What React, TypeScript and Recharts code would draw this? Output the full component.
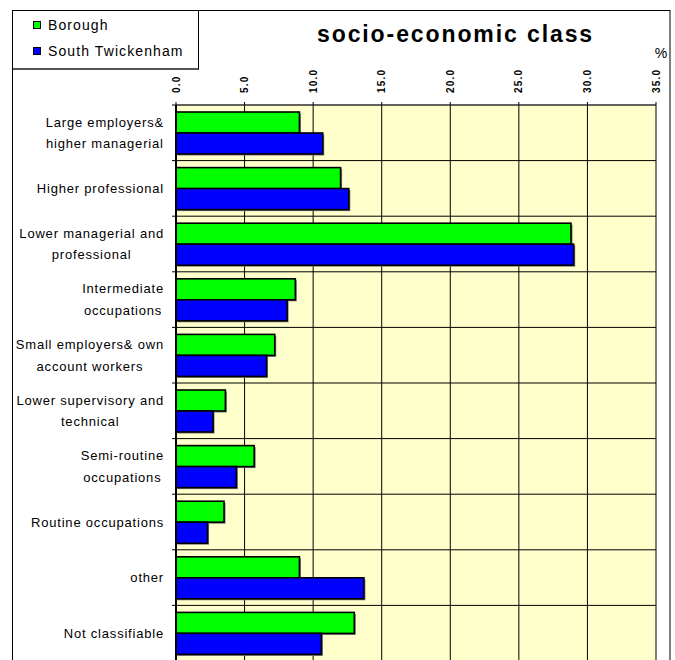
import React from 'react';
import { BarChart, Bar, XAxis, YAxis, CartesianGrid, Legend } from 'recharts';

const categories = [
  'Large employers&\nhigher managerial',
  'Higher professional',
  'Lower managerial and\nprofessional',
  'Intermediate\noccupations',
  'Small employers& own\naccount workers',
  'Lower supervisory and\ntechnical',
  'Semi-routine\noccupations',
  'Routine occupations',
  'other',
  'Not classifiable',
];
const boroughValues = [9.0, 12.0, 28.8, 8.7, 7.2, 3.6, 5.7, 3.5, 9.0, 13.0];
const southTwickenhamValues = [10.7, 12.6, 29.0, 8.1, 6.6, 2.7, 4.4, 2.3, 13.7, 10.6];
const seriesNames = ['Borough', 'South Twickenham'];
const xTicks = [0, 5, 10, 15, 20, 25, 30, 35];
const titleText = 'socio-economic class';
const unitText = '%';

const data = categories.map((c, i) => ({
  category: c,
  borough: boroughValues[i],
  south: southTwickenhamValues[i],
}));

const FONT = '"Liberation Sans", Arial, Helvetica, sans-serif';

// layout constants
const CHART_W = 675;
const CHART_H = 700;
const MARGIN = { top: 0, right: 19, bottom: 39, left: 11 };
const XAXIS_H = 105;
const YAXIS_W = 165;
const Y_TICK_MARGIN = 12;
const PLOT_H = CHART_H - MARGIN.top - MARGIN.bottom - XAXIS_H;
const BAND = PLOT_H / categories.length;

let measureCtx: any = null;
function measure(text: string, size: number, ls: number) {
  if (!measureCtx) {
    const c = document.createElement('canvas');
    measureCtx = c.getContext('2d');
  }
  measureCtx.font = `${size}px "Liberation Sans"`;
  return measureCtx.measureText(text).width + ls * text.length;
}

const CAT_SIZE = 13;
const CAT_LS = 0.8;

const CategoryTick = (props: any) => {
  const { x, y, payload, index, visibleTicksCount } = props;
  const lines = String(payload.value).split('\n');
  const widths = lines.map((l) => measure(l, CAT_SIZE, CAT_LS));
  const maxW = Math.max(...widths);
  const cx = x - maxW / 2;
  const lh = 21.6;
  const y0 = y - ((lines.length - 1) * lh) / 2;
  const axisX = x + Y_TICK_MARGIN;
  const isLast = index === (visibleTicksCount ?? categories.length) - 1;
  return (
    <g>
      <line x1={axisX - 4} x2={axisX} y1={y - BAND / 2} y2={y - BAND / 2} stroke="#000" strokeWidth={1} />
      {isLast && (
        <line x1={axisX - 4} x2={axisX} y1={y + BAND / 2} y2={y + BAND / 2} stroke="#000" strokeWidth={1} />
      )}
      {lines.map((l, i) => (
        <text
          key={i}
          x={cx}
          y={y0 + i * lh}
          dy="0.35em"
          textAnchor="middle"
          fontFamily={FONT}
          fontSize={CAT_SIZE}
          letterSpacing={CAT_LS}
          fill="#000"
        >
          {l}
        </text>
      ))}
    </g>
  );
};

const XTick = (props: any) => {
  const { x, y, payload } = props;
  return (
    <text
      x={x}
      y={y}
      transform={`rotate(-90 ${x} ${y})`}
      dy="0.35em"
      textAnchor="start"
      fontFamily={FONT}
      fontSize={10}
      fontWeight="bold"
      letterSpacing={1.2}
      fill="#000"
    >
      {Number(payload.value).toFixed(1)}
    </text>
  );
};

const BarShape = (props: any) => {
  const { x, y, width, height, fill } = props;
  if (!width || width <= 0) return <g />;
  return (
    <g>
      <rect x={x + 1.5} y={y + 1.5} width={width} height={height} fill="#777" />
      <rect x={x} y={y} width={width} height={height} fill={fill} stroke="#000" strokeWidth={1.6} />
    </g>
  );
};

const renderLegend = (props: any) => {
  const payload = props.payload || [];
  return (
    <div
      style={{
        boxSizing: 'border-box',
        width: 187,
        height: 60,
        border: '1px solid #000',
        borderBottom: '2px solid #555',
        background: '#fff',
        position: 'relative',
        fontFamily: FONT,
      }}
    >
      {payload.map((p: any, i: number) => (
        <div
          key={i}
          style={{
            position: 'absolute',
            left: 20,
            top: 5 + i * 26,
            height: 18,
            display: 'flex',
            alignItems: 'center',
            whiteSpace: 'nowrap',
          }}
        >
          <span
            style={{
              display: 'inline-block',
              boxSizing: 'border-box',
              width: 8,
              height: 8,
              border: '1px solid #000',
              background: p.color,
            }}
          />
          <span style={{ marginLeft: 7, fontSize: 14, letterSpacing: 1.1, color: '#000', lineHeight: '18px' }}>
            {p.value}
          </span>
        </div>
      ))}
    </div>
  );
};

const bandBoundaries = (args: any) => {
  const offset = args.offset;
  const n = categories.length;
  const out: number[] = [];
  for (let i = 0; i <= n; i++) out.push(offset.top + (i * offset.height) / n);
  return out;
};

export default function App() {
  return (
    <div
      style={{
        position: 'fixed',
        left: 0,
        top: 0,
        width: 675,
        height: 660,
        overflow: 'hidden',
        background: '#fff',
      }}
    >
      <BarChart
        width={CHART_W}
        height={CHART_H}
        data={data}
        layout="vertical"
        margin={MARGIN}
        barSize={21}
        barGap={0}
      >
        <CartesianGrid
          stroke="#000"
          strokeWidth={1}
          fill="#FFFFCC"
          fillOpacity={1}
          vertical
          horizontal
          horizontalCoordinatesGenerator={bandBoundaries}
        />
        <XAxis
          type="number"
          orientation="top"
          domain={[0, 35]}
          ticks={xTicks}
          interval={0}
          height={XAXIS_H}
          tickSize={3}
          tickMargin={9}
          tick={<XTick />}
          axisLine={{ stroke: '#444', strokeWidth: 1 }}
          tickLine={{ stroke: '#000' }}
          allowDataOverflow
        />
        <YAxis
          type="category"
          dataKey="category"
          orientation="left"
          width={YAXIS_W}
          axisLine={{ stroke: '#000', strokeWidth: 2 }}
          tickLine={false}
          tickSize={0}
          tickMargin={Y_TICK_MARGIN}
          interval={0}
          tick={<CategoryTick />}
        />
        <Legend
          layout="vertical"
          verticalAlign="middle"
          align="center"
          wrapperStyle={{ left: 12, top: 10, width: 187, height: 60 }}
          content={renderLegend}
        />
        <Bar
          dataKey="borough"
          name={seriesNames[0]}
          fill="#00FF00"
          shape={<BarShape />}
          isAnimationActive={false}
        />
        <Bar
          dataKey="south"
          name={seriesNames[1]}
          fill="#0000FF"
          shape={<BarShape />}
          isAnimationActive={false}
        />
      </BarChart>
      <svg
        width={675}
        height={660}
        style={{ position: 'absolute', left: 0, top: 0, pointerEvents: 'none' }}
      >
        <rect x={12.5} y={10.5} width={657.5} height={700} fill="none" stroke="#000" strokeWidth={1} />
        <text
          x={317}
          y={41.5}
          fontFamily={FONT}
          fontSize={23}
          fontWeight="bold"
          letterSpacing={1.9}
          fill="#000"
        >
          {titleText}
        </text>
        <text x={661} y={58} textAnchor="middle" fontFamily={FONT} fontSize={14} fill="#000">
          {unitText}
        </text>
      </svg>
    </div>
  );
}
